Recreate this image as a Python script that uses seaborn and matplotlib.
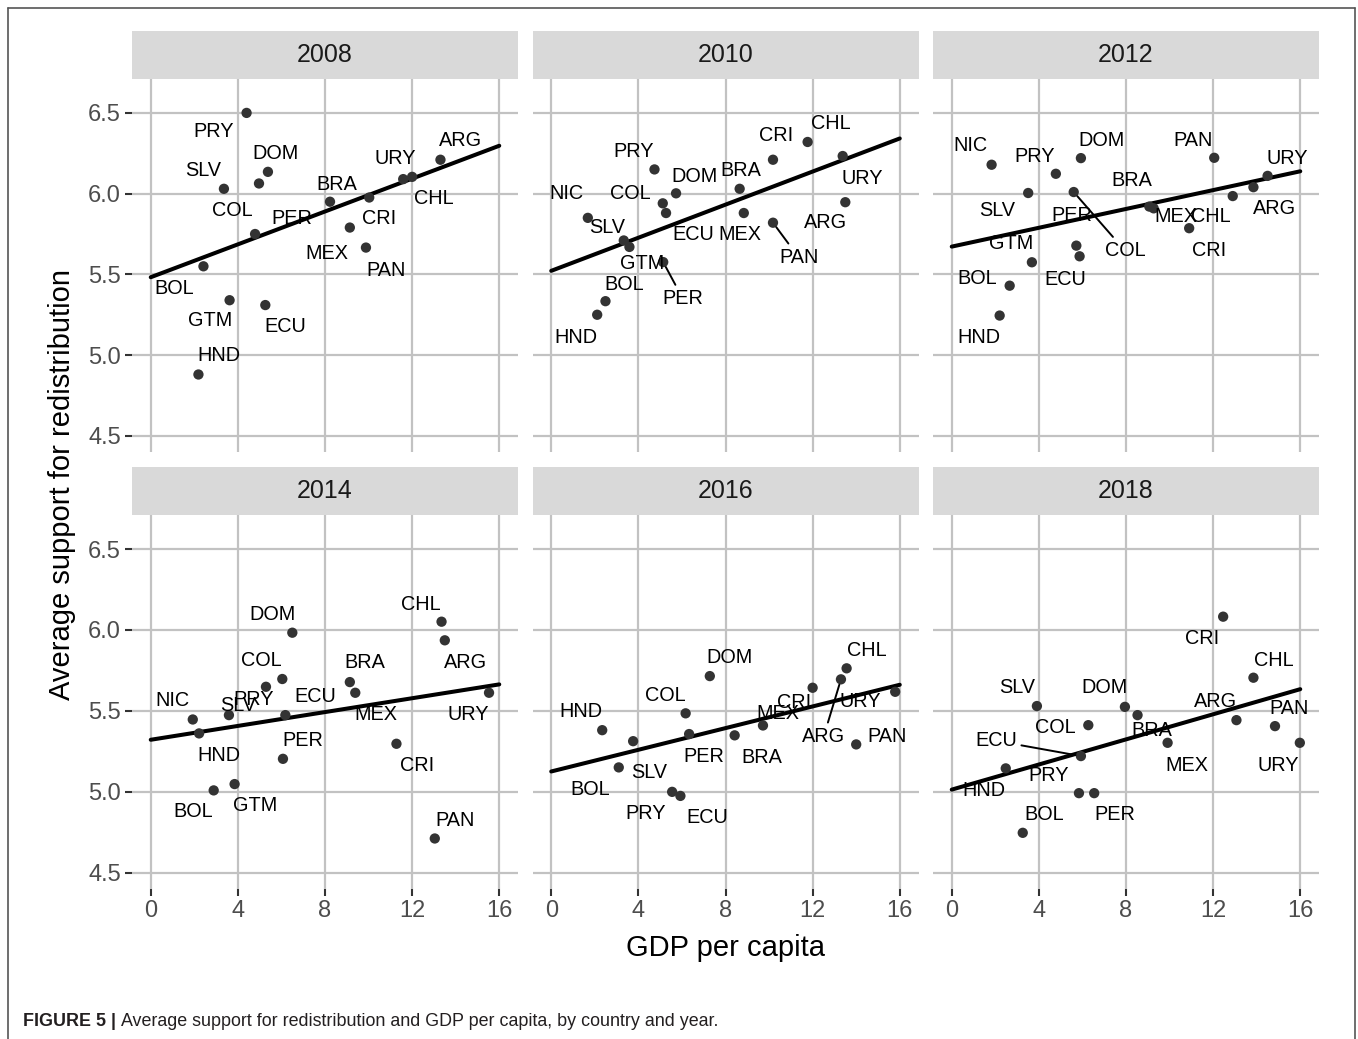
import numpy as np
import pandas as pd
import matplotlib
matplotlib.use("Agg")
import matplotlib.pyplot as plt
import seaborn as sns
from matplotlib.patches import Rectangle
from matplotlib.lines import Line2D
from matplotlib import font_manager

# ---------------- data ----------------
years = [2008, 2010, 2012, 2014, 2016, 2018]

countries_2008 = ["PRY", "DOM", "COL", "SLV", "BRA", "CRI", "MEX", "PAN", "PER", "BOL", "GTM", "ECU", "HND", "URY", "CHL", "ARG"]
gdp_2008 = [4.40, 5.38, 4.97, 3.36, 8.23, 10.03, 9.14, 9.88, 4.79, 2.42, 3.62, 5.26, 2.19, 11.59, 12.00, 13.30]
support_2008 = [6.50, 6.135, 6.063, 6.03, 5.95, 5.976, 5.79, 5.666, 5.75, 5.55, 5.34, 5.31, 4.88, 6.09, 6.104, 6.21]

countries_2010 = ["PRY", "DOM", "COL", "ECU", "NIC", "SLV", "GTM", "PER", "BOL", "HND", "BRA", "MEX", "CRI", "CHL", "URY", "ARG", "PAN"]
gdp_2010 = [4.74, 5.73, 5.12, 5.27, 1.68, 3.33, 3.59, 5.14, 2.49, 2.11, 8.65, 8.84, 10.18, 11.77, 13.38, 13.50, 10.18]
support_2010 = [6.150, 6.002, 5.94, 5.88, 5.85, 5.71, 5.67, 5.576, 5.334, 5.25, 6.03, 5.88, 6.21, 6.32, 6.233, 5.947, 5.82]

countries_2012 = ["NIC", "PRY", "DOM", "SLV", "COL", "PER", "ECU", "GTM", "BOL", "HND", "BRA", "MEX", "CRI", "PAN", "CHL", "ARG", "URY"]
gdp_2012 = [1.83, 4.78, 5.93, 3.51, 5.60, 5.72, 5.87, 3.68, 2.66, 2.20, 9.07, 9.27, 10.90, 12.05, 12.90, 13.85, 14.50]
support_2012 = [6.179, 6.123, 6.22, 6.004, 6.010, 5.678, 5.612, 5.575, 5.43, 5.245, 5.92, 5.909, 5.786, 6.222, 5.985, 6.04, 6.11]

countries_2014 = ["DOM", "COL", "PRY", "SLV", "ECU", "NIC", "HND", "PER", "GTM", "BOL", "BRA", "MEX", "CRI", "CHL", "ARG", "URY", "PAN"]
gdp_2014 = [6.50, 6.04, 5.29, 3.59, 6.18, 1.93, 2.22, 6.07, 3.85, 2.89, 9.14, 9.39, 11.28, 13.35, 13.50, 15.53, 13.04]
support_2014 = [5.983, 5.697, 5.649, 5.474, 5.474, 5.447, 5.361, 5.204, 5.048, 5.009, 5.678, 5.612, 5.297, 6.051, 5.936, 5.612, 4.712]

countries_2016 = ["DOM", "COL", "HND", "SLV", "PER", "BRA", "MEX", "CRI", "CHL", "ARG", "URY", "PAN", "BOL", "PRY", "ECU"]
gdp_2016 = [7.28, 6.17, 2.34, 3.76, 6.33, 8.42, 9.72, 12.00, 13.56, 13.30, 15.79, 14.00, 3.10, 5.55, 5.93]
support_2016 = [5.715, 5.485, 5.381, 5.313, 5.357, 5.349, 5.410, 5.643, 5.763, 5.695, 5.618, 5.293, 5.151, 5.000, 4.975]

countries_2018 = ["CRI", "CHL", "SLV", "DOM", "BRA", "COL", "MEX", "ARG", "PAN", "URY", "ECU", "HND", "PRY", "PER", "BOL"]
gdp_2018 = [12.46, 13.85, 3.91, 7.95, 8.53, 6.27, 9.91, 13.07, 14.84, 15.98, 5.93, 2.48, 5.84, 6.54, 3.26]
support_2018 = [6.082, 5.705, 5.530, 5.525, 5.474, 5.412, 5.303, 5.443, 5.406, 5.303, 5.221, 5.145, 4.992, 4.992, 4.747]

x_ticks = [0, 4, 8, 12, 16]
y_ticks = [4.5, 5.0, 5.5, 6.0, 6.5]

frames = []
for yr, cs, gx, sy in [
    (2008, countries_2008, gdp_2008, support_2008),
    (2010, countries_2010, gdp_2010, support_2010),
    (2012, countries_2012, gdp_2012, support_2012),
    (2014, countries_2014, gdp_2014, support_2014),
    (2016, countries_2016, gdp_2016, support_2016),
    (2018, countries_2018, gdp_2018, support_2018),
]:
    frames.append(pd.DataFrame({"year": yr, "country": cs, "gdp": gx, "support": sy}))
df = pd.concat(frames, ignore_index=True)

# ------------- label placement (layout, pixels: dx right, dy down) -------------
label_offsets = {
    2008: {"PRY": (-32.7, 19), "DOM": (7.7, -18.3), "COL": (-26.7, 26.7), "SLV": (-20.7, -18.3),
           "BRA": (7.3, -17.7), "CRI": (9.7, 21), "MEX": (-22.7, 25.7), "PAN": (19.7, 22.7),
           "PER": (36.3, -15.7), "BOL": (-29.3, 21.7), "GTM": (-19.7, 20.7), "ECU": (20.3, 21.7),
           "HND": (20.7, -18.7), "URY": (-7.7, -20.7), "CHL": (21.7, 21.7), "ARG": (20, -19)},
    2010: {"PRY": (-20.7, -17.7), "DOM": (18.3, -17), "COL": (-32.3, -9.7), "ECU": (27.7, 21.3),
           "NIC": (-21, -24.3), "SLV": (-16.7, -13.3), "GTM": (12.7, 16.7), "PER": (19.7, 36.7),
           "BOL": (18.3, -16.7), "HND": (-21, 22.7), "BRA": (1.3, -18.3), "MEX": (-4, 21.7),
           "CRI": (3, -24.3), "CHL": (23.3, -18.7), "URY": (20, 22.3), "ARG": (-20, 20.7),
           "PAN": (25.7, 34.7)},
    2012: {"NIC": (-21.3, -19.7), "PRY": (-21, -17.7), "DOM": (20.7, -18), "SLV": (-30.7, 17.7),
           "COL": (51.3, 58.7), "PER": (-4.7, -30.3), "ECU": (-14.7, 23), "GTM": (-21, -18.7),
           "BOL": (-32, -6.7), "HND": (-20.3, 21.7), "BRA": (-17.7, -25.7), "MEX": (22.3, 8.3),
           "CHL": (-22, 20.7), "CRI": (20, 22), "PAN": (-21, -17.7), "ARG": (20.7, 21.7),
           "URY": (19.3, -17.3)},
    2014: {"DOM": (-20.3, -18.3), "COL": (-20.7, -18.3), "PRY": (-12.7, 12.7), "SLV": (9.3, -9.3),
           "ECU": (29.7, -18.3), "PER": (20.3, -18.7), "NIC": (-20.7, -18.7), "HND": (20.3, 22.3),
           "GTM": (20.3, 21), "BOL": (-20.3, 21.3), "BRA": (15.3, -19.3), "MEX": (20.7, 21.3),
           "CRI": (20.7, 21.3), "CHL": (-21, -17.3), "ARG": (20.3, 22), "URY": (-21, 21.3),
           "PAN": (20.3, -18.3)},
    2016: {"DOM": (20, -18.3), "COL": (-20.3, -18.3), "HND": (-21, -18.3), "SLV": (15.7, 31.7),
           "BOL": (-29, 22), "PER": (14.7, 22.7), "BRA": (27.3, 22), "MEX": (14.7, -12),
           "CRI": (-18.3, 15), "CHL": (20.3, -18.3), "ARG": (-17.3, 57.3), "URY": (-35, 10),
           "PAN": (30.7, -7.7), "PRY": (-26.7, 21.7), "ECU": (26.7, 21.7)},
    2018: {"CRI": (-20.7, 21.7), "CHL": (20.7, -17.7), "SLV": (-20, -18.7), "DOM": (-20.7, -19),
           "BRA": (14, 15.7), "COL": (-33, 2.7), "MEX": (19.3, 22.3), "ARG": (-20.7, -18.3),
           "PAN": (14, -17.7), "URY": (-21.7, 22.3), "ECU": (-85, -15.3), "HND": (-22, 21.7),
           "PRY": (-30.7, -18), "PER": (20.7, 21), "BOL": (21, -18.7)},
}
segment_labels = {(2010, "PER"), (2010, "PAN"), (2012, "COL"), (2016, "ARG"), (2018, "ECU")}

# ---------------- style ----------------
sns.set_theme(style="white")
avail = {f.name for f in font_manager.fontManager.ttflist}
base_font = "Liberation Sans" if "Liberation Sans" in avail else "DejaVu Sans"
narrow_font = "Liberation Sans Narrow" if "Liberation Sans Narrow" in avail else base_font
plt.rcParams["font.family"] = [base_font, "DejaVu Sans"]

W, H = 1358, 1039
fig = plt.figure(figsize=(W / 100, H / 100), dpi=100)
fig.patch.set_facecolor("white")

col_left = [132, 532.5, 933]
panel_w = 386
row_top = [79, 515]
row_bot = [452, 889]
strip_h = 48
px2pt = 0.72

for i, yr in enumerate(years):
    r, c = divmod(i, 3)
    ph = row_bot[r] - row_top[r]
    ax = fig.add_axes([col_left[c] / W, 1 - row_bot[r] / H, panel_w / W, ph / H])
    sub = df[df["year"] == yr]

    ax.set_xlim(0, 16)
    sns.regplot(data=sub, x="gdp", y="support", ax=ax, scatter=False, ci=None,
                truncate=False, line_kws=dict(color="black", lw=2.9, zorder=3))
    sns.scatterplot(data=sub, x="gdp", y="support", ax=ax, s=55, color="#333333",
                    edgecolor="none", linewidth=0, zorder=4)

    ax.set_xlim(-0.86, 16.86)
    ax.set_ylim(4.40, 6.71)
    ax.set_xticks(x_ticks)
    ax.set_yticks(y_ticks)
    ax.set_yticklabels([f"{v:.1f}" for v in y_ticks])
    ax.set_xticklabels([str(v) for v in x_ticks])
    ax.grid(True, color="#C2C2C2", lw=1.6)
    ax.set_axisbelow(True)
    for s in ax.spines.values():
        s.set_visible(False)
    ax.set_xlabel("")
    ax.set_ylabel("")
    ax.tick_params(axis="both", colors="#333333", labelcolor="#4D4D4D", labelsize=17,
                   length=5, width=1.5, pad=3)
    ax.tick_params(axis="x", bottom=(r == 1), labelbottom=(r == 1))
    ax.tick_params(axis="y", left=(c == 0), labelleft=(c == 0))

    # strip
    ax.add_patch(Rectangle((0, 1), 1, strip_h / ph, transform=ax.transAxes,
                           clip_on=False, facecolor="#D9D9D9", edgecolor="none"))
    ax.text(0.5, 1 + strip_h / ph / 2, str(yr), transform=ax.transAxes,
            ha="center", va="center", fontsize=18, color="#1A1A1A")

    # labels
    for _, row in sub.iterrows():
        dx, dy = label_offsets[yr][row["country"]]
        kw = {}
        if (yr, row["country"]) in segment_labels:
            kw["arrowprops"] = dict(arrowstyle="-", color="black", lw=1.4,
                                    shrinkA=1, shrinkB=4)
        ax.annotate(row["country"], xy=(row["gdp"], row["support"]),
                    xytext=(dx * px2pt, -dy * px2pt), textcoords="offset points",
                    ha="center", va="center", fontsize=14.3, color="black", zorder=5, **kw)

fig.text(62 / W, 1 - 484 / H, "Average support for redistribution", rotation=90,
         ha="center", va="center", fontsize=21, color="black")
fig.text(725 / W, 1 - 948 / H, "GDP per capita", ha="center", va="center",
         fontsize=21, color="black")

# outer frame
for xs, ys in [([7.5, 7.5], [H, 8]), ([7.5, 1355], [8, 8]), ([1355, 1355], [8, H])]:
    fig.add_artist(Line2D([x / W for x in xs], [1 - y / H for y in ys],
                          color="#555555", lw=1.2, transform=fig.transFigure))

# caption
renderer = fig.canvas.get_renderer()
cap_size = 13
t1 = fig.text(23 / W, 1 - 1021 / H, "FIGURE 5 | ", fontsize=cap_size, fontweight="bold",
              family=[narrow_font, "DejaVu Sans"], ha="left", va="center", color="#231F20")
t2 = fig.text(0, 1 - 1021 / H, "Average support for redistribution and GDP per capita, by country and year.",
              fontsize=cap_size, family=[narrow_font, "DejaVu Sans"], ha="left", va="center",
              color="#231F20")
w1 = t1.get_window_extent(renderer).width
w2 = t2.get_window_extent(renderer).width
scale = 695.0 / (w1 + w2)
if scale < 1:
    cap_size = cap_size * scale
    t1.set_fontsize(cap_size)
    t2.set_fontsize(cap_size)
    w1 = t1.get_window_extent(renderer).width
t2.set_x((23 + w1) / W)

fig.savefig("out.png", dpi=100)
